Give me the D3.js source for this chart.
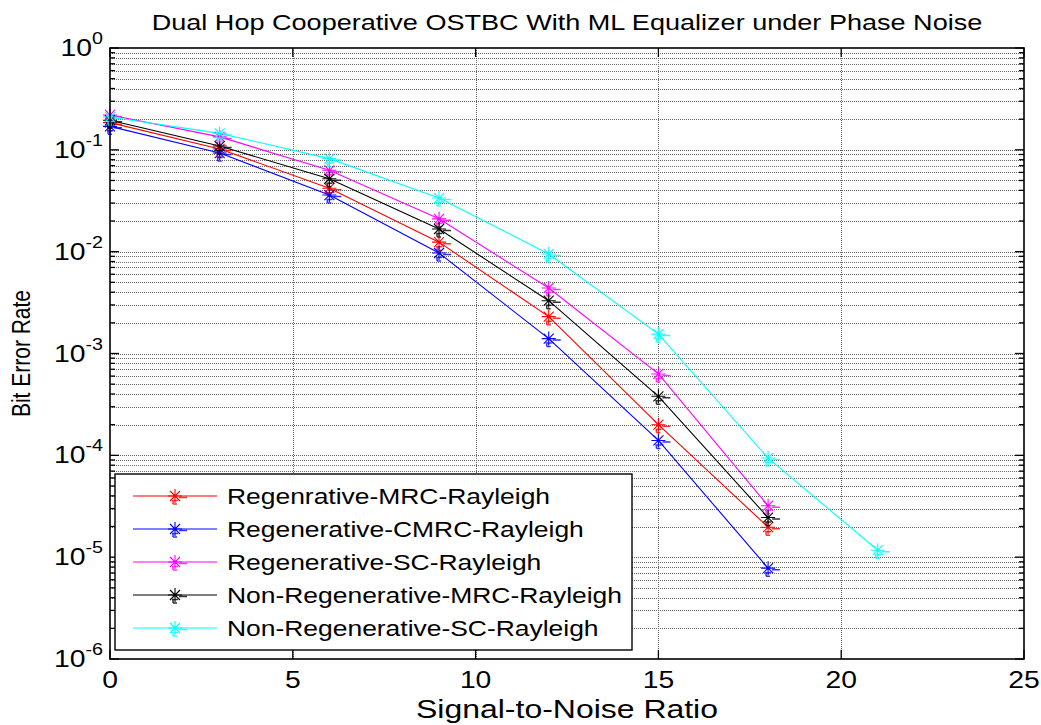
<!DOCTYPE html>
<html>
<head>
<meta charset="utf-8">
<script src="https://cdn.jsdelivr.net/npm/d3@7/dist/d3.min.js"></script>
<style>
  html, body { margin: 0; padding: 0; background: #fff; }
  svg { display: block; }
  text { font-family: "Liberation Sans", Arial, Helvetica, sans-serif; fill: #000; }
</style>
</head>
<body>
<svg id="chart" width="1041" height="725"></svg>
<script>
// SNR points (dB) and BER curves for each relaying/combining scheme
const snr      = [0, 3, 6, 9, 12, 15, 18];
const snrLong  = [0, 3, 6, 9, 12, 15, 18, 21];

const berRegMRC   = [0.185, 0.102, 0.042, 0.0124, 0.0023, 2.0e-4, 1.97e-5];
const berRegCMRC  = [0.170, 0.093, 0.036, 0.0097, 0.0014, 1.4e-4, 7.8e-6];
const berRegSC    = [0.220, 0.134, 0.063, 0.021, 0.0044, 6.3e-4, 3.2e-5];
const berNonMRC   = [0.195, 0.109, 0.052, 0.0167, 0.0033, 3.8e-4, 2.45e-5];
const berNonSC    = [0.210, 0.145, 0.082, 0.0336, 0.0095, 1.55e-3, 9.4e-5, 1.17e-5];

const seriesNames = [
  "Regenrative-MRC-Rayleigh",
  "Regenerative-CMRC-Rayleigh",
  "Regenerative-SC-Rayleigh",
  "Non-Regenerative-MRC-Rayleigh",
  "Non-Regenerative-SC-Rayleigh"
];
const seriesColors = ["#ff0000", "#0000ff", "#ff00ff", "#000000", "#00ffff"];

const xTicks = [0, 5, 10, 15, 20, 25];
const yDecades = [1e0, 1e-1, 1e-2, 1e-3, 1e-4, 1e-5, 1e-6];
const yExponents = ["0", "-1", "-2", "-3", "-4", "-5", "-6"];

const titleText  = "Dual Hop Cooperative OSTBC With ML Equalizer under Phase Noise";
const xLabelText = "Signal-to-Noise Ratio";
const yLabelText = "Bit Error Rate";

// ---- layout ----
const W = 1041, H = 725;
const m = { left: 110, right: 1024, top: 48, bottom: 659 };
const SX = 1.23;   // horizontal stretch of the lettering
const FS = 23;

const svg = d3.select("#chart");

const x = d3.scaleLinear().domain([0, 25]).range([m.left, m.right]);
const y = d3.scaleLog().domain([1e-6, 1]).range([m.bottom, m.top]);

const series = [
  { xs: snr, ys: berRegMRC },
  { xs: snr, ys: berRegCMRC },
  { xs: snr, ys: berRegSC },
  { xs: snr, ys: berNonMRC },
  { xs: snrLong, ys: berNonSC }
].map((s, i) => ({ ...s, name: seriesNames[i], color: seriesColors[i] }));

function stretchedText(parent, px, py, str, opts = {}) {
  const t = parent.append("text")
    .attr("transform", `translate(${px},${py}) scale(${SX},1)`)
    .attr("font-size", opts.size || FS)
    .attr("text-anchor", opts.anchor || "start");
  t.text(str);
  return t;
}

// ---- grid ----
const grid = svg.append("g").attr("stroke", "#666").attr("stroke-width", 1)
  .attr("stroke-dasharray", "1,1").attr("shape-rendering", "crispEdges");

const minorVals = [];
for (let e = -6; e < 0; e++) {
  for (let k = 2; k <= 9; k++) minorVals.push(k * Math.pow(10, e));
}
const allY = minorVals.concat(yDecades.slice(1, -1));
grid.selectAll("line.h").data(allY).join("line")
  .attr("x1", m.left).attr("x2", m.right)
  .attr("y1", d => Math.round(y(d)) + 0.5).attr("y2", d => Math.round(y(d)) + 0.5);
grid.selectAll("line.v").data(xTicks.slice(1, -1)).join("line")
  .attr("x1", d => Math.round(x(d)) + 0.5).attr("x2", d => Math.round(x(d)) + 0.5)
  .attr("y1", m.top).attr("y2", m.bottom);

// ---- ticks (inward, on all four sides) ----
const ticks = svg.append("g").attr("stroke", "#000").attr("stroke-width", 1.3);
const majorLen = 9, minorLen = 5;
yDecades.forEach(d => {
  const yy = y(d);
  ticks.append("line").attr("x1", m.left).attr("x2", m.left + majorLen).attr("y1", yy).attr("y2", yy);
  ticks.append("line").attr("x1", m.right).attr("x2", m.right - majorLen).attr("y1", yy).attr("y2", yy);
});
minorVals.forEach(d => {
  const yy = y(d);
  ticks.append("line").attr("x1", m.left).attr("x2", m.left + minorLen).attr("y1", yy).attr("y2", yy);
  ticks.append("line").attr("x1", m.right).attr("x2", m.right - minorLen).attr("y1", yy).attr("y2", yy);
});
xTicks.forEach(d => {
  const xx = x(d);
  ticks.append("line").attr("x1", xx).attr("x2", xx).attr("y1", m.bottom).attr("y2", m.bottom - majorLen);
  ticks.append("line").attr("x1", xx).attr("x2", xx).attr("y1", m.top).attr("y2", m.top + majorLen);
});

// ---- data lines ----
const line = d3.line().x(d => x(d[0])).y(d => y(d[1]));
const plot = svg.append("g");
series.forEach(s => {
  const pts = s.xs.map((v, i) => [v, s.ys[i]]);
  plot.append("path").datum(pts)
    .attr("d", line).attr("fill", "none")
    .attr("stroke", s.color).attr("stroke-width", 1.1);
});

// asterisk marker with the faint offset trace of the plotting renderer
const starPath = "M-7,0H7M0,-7V7M-5,-5L5,5M-5,5L5,-5";
const ghostPath = "M4,1.5H12M-3,4.5H3M-2,4.5V8M-2,8H2";
function drawMarker(parent, cx, cy, color) {
  const g = parent.append("g").attr("transform", `translate(${cx},${cy})`);
  g.append("path").attr("d", ghostPath).attr("stroke", color)
    .attr("stroke-width", 1.5).attr("fill", "none").attr("opacity", 0.8);
  g.append("path").attr("d", starPath).attr("stroke", color)
    .attr("stroke-width", 1.1).attr("fill", "none");
}
series.forEach(s => {
  s.xs.forEach((v, i) => drawMarker(plot, x(v), y(s.ys[i]), s.color));
});

// ---- axes box ----
svg.append("rect")
  .attr("x", m.left).attr("y", m.top)
  .attr("width", m.right - m.left).attr("height", m.bottom - m.top)
  .attr("fill", "none").attr("stroke", "#000").attr("stroke-width", 1.6);

// ---- tick labels ----
const labels = svg.append("g");
xTicks.forEach(d => {
  stretchedText(labels, x(d), 688, String(d), { anchor: "middle" });
});
yDecades.forEach((d, i) => {
  const t = labels.append("text")
    .attr("transform", `translate(103,${y(d) + 8}) scale(${SX},1)`)
    .attr("font-size", FS).attr("text-anchor", "end");
  t.append("tspan").text("10");
  t.append("tspan").attr("font-size", 16).attr("dy", -12).text(yExponents[i]);
});

// ---- title and axis labels ----
stretchedText(svg, (m.left + m.right) / 2, 30, titleText, { anchor: "middle", size: 22 });
stretchedText(svg, (m.left + m.right) / 2, 718, xLabelText, { anchor: "middle", size: 26 });
svg.append("text")
  .attr("transform", `translate(30,${(m.top + m.bottom) / 2}) rotate(-90) scale(1,${SX})`)
  .attr("font-size", 21).attr("text-anchor", "middle")
  .text(yLabelText);

// ---- legend ----
const lg = { x: 115, y: 474, w: 517, h: 176, rowStart: 496, rowStep: 33 };
const legend = svg.append("g");
legend.append("rect")
  .attr("x", lg.x).attr("y", lg.y).attr("width", lg.w).attr("height", lg.h)
  .attr("fill", "#fff").attr("stroke", "#000").attr("stroke-width", 1.4);
series.forEach((s, i) => {
  const ry = lg.rowStart + i * lg.rowStep;
  legend.append("line").attr("x1", 133).attr("x2", 217).attr("y1", ry).attr("y2", ry)
    .attr("stroke", s.color).attr("stroke-width", 1.1);
  drawMarker(legend, 175, ry, s.color);
  stretchedText(legend, 227, ry + 8, s.name, { size: 21.5 });
});
</script>
</body>
</html>
